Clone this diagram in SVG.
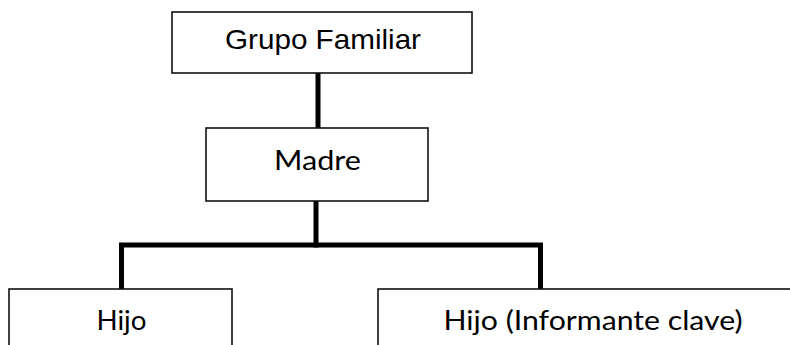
<svg xmlns="http://www.w3.org/2000/svg" width="790" height="345" viewBox="0 0 790 345">
<style>
.box{fill:#fff;stroke:#111;stroke-width:1.6}
.conn{fill:none;stroke:#000;stroke-width:5;stroke-linecap:square;stroke-linejoin:miter}
.arial{font-family:"Liberation Sans",Arial,sans-serif;font-size:27.5px;fill:#000}
.cal{font-family:Lato,"Open Sans",sans-serif;font-size:27px;fill:#000}
</style>
<rect width="790" height="345" fill="#fff"/>
<g id="connectors">
<line class="conn" x1="318" y1="74" x2="318" y2="127"/>
<line class="conn" x1="316" y1="202" x2="316" y2="245"/>
<polyline class="conn" points="121.5,288 121.5,245 540.5,245 540.5,288"/>
</g>
<g id="grupo">
<rect class="box" x="172" y="12" width="300" height="61"/>
<text class="arial" x="323" y="48.5" text-anchor="middle" textLength="196" lengthAdjust="spacingAndGlyphs">Grupo Familiar</text>
</g>
<g id="madre">
<rect class="box" x="206" y="128" width="222" height="73"/>
<text class="cal" x="317.5" y="170" text-anchor="middle" textLength="87" lengthAdjust="spacingAndGlyphs">Madre</text>
</g>
<g id="hijo">
<rect class="box" x="9" y="289" width="223" height="80"/>
<text class="cal" x="121.5" y="330" text-anchor="middle" textLength="50" lengthAdjust="spacingAndGlyphs">Hijo</text>
</g>
<g id="hijo-informante">
<rect class="box" x="378" y="289" width="430" height="80"/>
<text class="cal" x="593" y="330" text-anchor="middle" textLength="299" lengthAdjust="spacingAndGlyphs">Hijo (Informante clave)</text>
</g>
</svg>
